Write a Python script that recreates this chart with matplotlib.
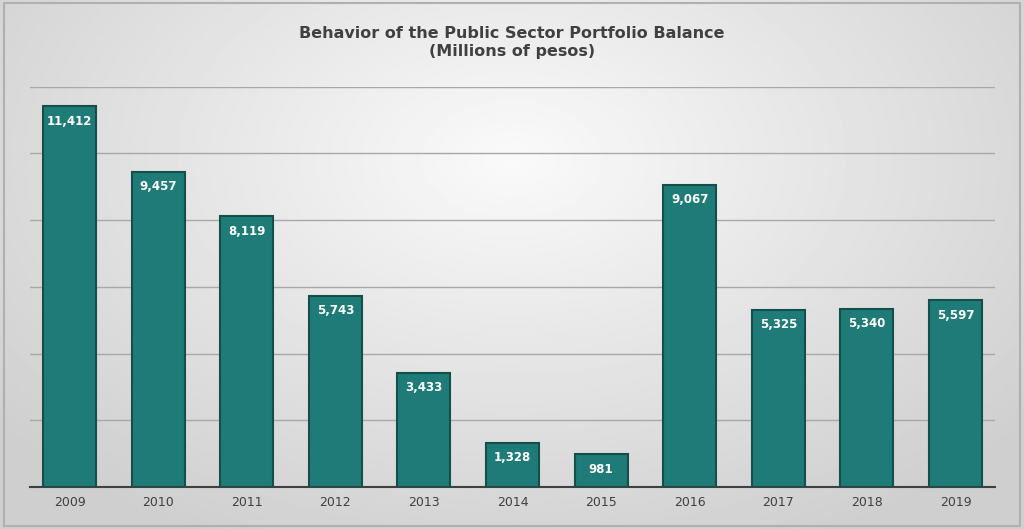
import numpy as np
import matplotlib
matplotlib.use('Agg')
import matplotlib.pyplot as plt

years = ['2009', '2010', '2011', '2012', '2013', '2014', '2015', '2016', '2017', '2018', '2019']
balance = [11412, 9457, 8119, 5743, 3433, 1328, 981, 9067, 5325, 5340, 5597]

fig = plt.figure(figsize=(10.24, 5.29), dpi=100)

# gray radial background, lighter toward the top
bg = fig.add_axes([0, 0, 1, 1])
yy, xx = np.mgrid[-1:1:300j, -1:1:600j]
r = np.sqrt(xx**2 + ((yy - 0.4) * 0.8)**2)
bg.imshow(0.98 - 0.17 * np.clip(r / 1.3, 0, 1), cmap='gray', vmin=0, vmax=1,
          aspect='auto', extent=[0, 1, 0, 1], origin='lower')
bg.plot([0.004, 0.996, 0.996, 0.004, 0.004], [0.006, 0.006, 0.994, 0.994, 0.006],
        color='#b0b0b0', lw=1.5)
bg.set_xlim(0, 1)
bg.set_ylim(0, 1)
bg.axis('off')

ax = fig.add_axes([0.029, 0.079, 0.943, 0.757])
ax.patch.set_alpha(0)
x = np.arange(len(years))
ax.bar(x, balance, width=0.6, color='#1f7b77', edgecolor='#154f4c', linewidth=1.5, zorder=3)
for xi, v in zip(x, balance):
    ax.text(xi, v - 250, f'{v:,}', ha='center', va='top', color='white',
            fontsize=8.5, fontweight='bold', zorder=4)

ax.set_ylim(0, 12000)
ax.set_xlim(-0.45, len(years) - 0.55)
ax.set_yticks(range(0, 12001, 2000))
ax.set_yticklabels([])
ax.tick_params(axis='y', length=0)
ax.tick_params(axis='x', length=0, labelsize=9, colors='#404040', pad=6)
ax.set_xticks(x)
ax.set_xticklabels(years)
ax.grid(axis='y', color='#a8a8a8', lw=1, zorder=0)
for s in ['top', 'right', 'left']:
    ax.spines[s].set_visible(False)
ax.spines['bottom'].set_color('#404040')
ax.spines['bottom'].set_linewidth(1.5)

fig.text(0.5, 0.92, 'Behavior of the Public Sector Portfolio Balance\n(Millions of pesos)',
         ha='center', va='center', fontsize=11.5, fontweight='bold', color='#404040')

fig.savefig('out.png', dpi=100)
